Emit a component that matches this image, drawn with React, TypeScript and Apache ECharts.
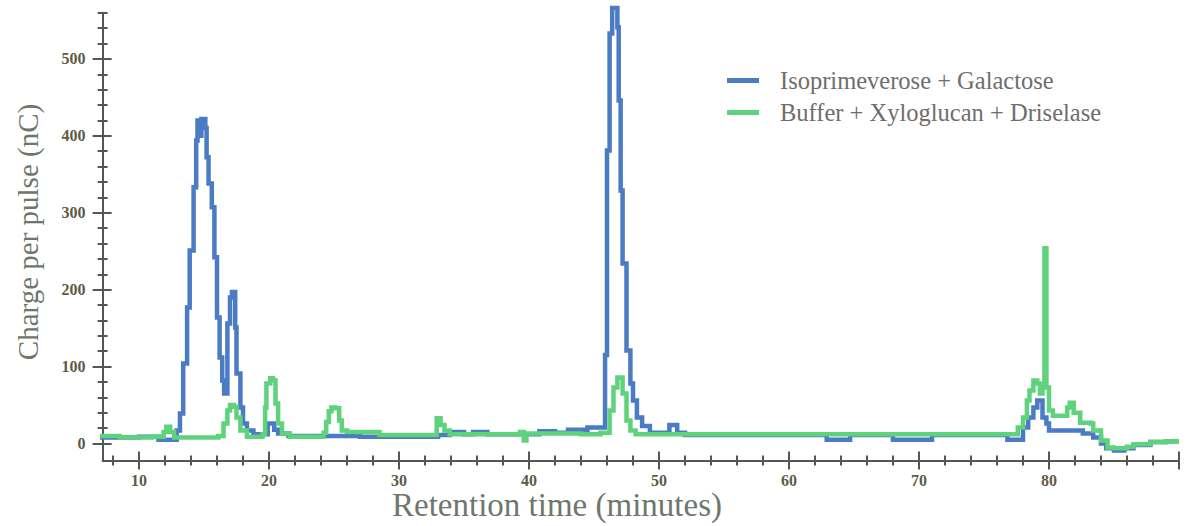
import React, { useEffect, useRef } from "react";
import * as echarts from "echarts";

// Retention time (minutes) and charge per pulse (nC)
const blueT = [7, 10, 11.5, 12.9, 13.15, 13.4, 13.7, 13.9, 14.2, 14.4, 14.5, 14.65, 14.8, 15.1, 15.2, 15.35, 15.6, 15.8, 16.0, 16.2, 16.4, 16.55, 16.8, 17.0, 17.15, 17.4, 17.5, 17.8, 18.0, 18.3, 18.8, 19.9, 20.4, 20.7, 21.5, 27, 33, 33.9, 35, 35.7, 36.8, 40.8, 42, 43, 44.5, 45.5, 45.7, 45.85, 46.0, 46.2, 46.4, 46.8, 46.9, 47.05, 47.2, 47.5, 47.8, 48.0, 48.3, 48.7, 49.3, 50.8, 51.4, 52, 62.9, 64.7, 68, 71, 76.8, 78, 78.4, 78.8, 79.1, 79.5, 79.8, 80, 82.6, 83.4, 84, 84.4, 85, 85.8, 86.5, 87.8, 89, 90];
const blueV = [8, 9, 5, 17, 39, 104, 177, 251, 333, 394, 420, 400, 422, 410, 372, 338, 307, 242, 164, 112, 82, 65, 156, 190, 197, 151, 91, 47, 26, 17, 12, 26, 18, 13, 10, 9, 11, 15, 12, 15, 12, 16, 14, 18, 21, 21, 21, 115, 381, 533, 566, 541, 446, 329, 234, 121, 78, 56, 34, 23, 14, 24, 14, 11, 5, 11, 5, 11, 5, 21, 34, 47, 56, 34, 26, 17, 13, 8, 0, -6, -9, -6, -2, 2, 3, 3];

const greenT = [7, 8.5, 11, 11.9, 12.1, 12.4, 12.7, 16.1, 16.5, 16.8, 17.0, 17.3, 17.5, 17.8, 18.3, 19.5, 19.7, 19.8, 20.1, 20.3, 20.5, 20.7, 21, 21.6, 24.2, 24.4, 24.6, 24.8, 25.1, 25.4, 25.6, 26.0, 28.5, 32.9, 33.2, 33.5, 33.9, 39.3, 39.6, 39.8, 44, 45.5, 46.2, 46.5, 46.8, 47.2, 47.5, 47.8, 48.2, 49, 77.6, 78.0, 78.3, 78.5, 78.8, 79.1, 79.3, 79.5, 79.65, 79.8, 80.0, 80.3, 81.4, 81.6, 81.9, 82.4, 83.2, 83.4, 84, 84.5, 85, 86, 86.5, 87.8, 89, 90];
const greenV = [10, 8, 9, 15, 22, 15, 8, 10, 26, 43, 50, 48, 34, 17, 9, 12, 47, 78, 85, 82, 52, 26, 13, 9, 14, 28, 42, 47, 46, 30, 17, 15, 11, 33, 24, 17, 12, 15, 4, 13, 12, 14, 43, 73, 86, 65, 30, 17, 12, 12, 21, 34, 56, 69, 82, 78, 65, 73, 254, 73, 43, 36, 47, 53, 40, 27, 26, 17, 4, -5, -6, -4, -1, 2, 3, 3];

const seriesNames = ["Isoprimeverose + Galactose", "Buffer + Xyloglucan + Driselase"];
const xMajorTicks = [10, 20, 30, 40, 50, 60, 70, 80, 90];
const xLabels = [10, 20, 30, 40, 50, 60, 70, 80];
const xMinorTicks = [8, 12, 14, 16, 18, 22, 24, 26, 28, 32, 34, 36, 38, 42, 44, 46, 48, 52, 54, 56, 58, 62, 64, 66, 68, 72, 74, 76, 78, 82, 84, 86, 88];
const yMajorTicks = [0, 100, 200, 300, 400, 500];
const yMinorTicks = [20, 40, 60, 80, 120, 140, 160, 180, 220, 240, 260, 280, 320, 340, 360, 380, 420, 440, 460, 480, 520, 540, 560];

const AXIS = "#555552";
const LABEL = "#5d5b47";
const TITLE = "#6d776b";

export default function App() {
  const ref = useRef<HTMLDivElement>(null);
  useEffect(() => {
    if (!ref.current) return;
    const chart = echarts.init(ref.current, undefined, { renderer: "svg" });
    const pair = (t: number[], v: number[]) => t.map((x, i) => [x, v[i]]);
    const xBase = { type: "value", min: 7.2, max: 90, gridIndex: 0, position: "bottom", offset: 0, splitLine: { show: false } };
    const yBase = { type: "value", min: -22, max: 560, gridIndex: 0, position: "left", offset: 0, splitLine: { show: false } };
    const mkX = (ticks: number[], inside: boolean, len: number, main: boolean) => ({
      ...xBase,
      axisLine: { show: main, onZero: false, lineStyle: { color: AXIS, width: 2 } },
      axisTick: { show: true, customValues: ticks, inside, length: len, lineStyle: { color: AXIS, width: 2 } },
      axisLabel: main
        ? { show: true, customValues: xLabels, margin: 12, color: LABEL, fontFamily: "Liberation Serif", fontWeight: "bold", fontSize: 16 }
        : { show: false },
    });
    const mkY = (ticks: number[], inside: boolean, len: number, main: boolean) => ({
      ...yBase,
      axisLine: { show: main, onZero: false, lineStyle: { color: AXIS, width: 2 } },
      axisTick: { show: true, customValues: ticks, inside, length: len, lineStyle: { color: AXIS, width: 2 } },
      axisLabel: main
        ? { show: true, customValues: yMajorTicks, margin: 17, color: LABEL, fontFamily: "Liberation Serif", fontWeight: "bold", fontSize: 16 }
        : { show: false },
    });
    chart.setOption({
      animation: false,
      backgroundColor: "#ffffff",
      grid: { left: 102.6, right: 10, top: 12.7, bottom: 65.5, containLabel: false },
      xAxis: [
        mkX(xMajorTicks, false, 9, true),
        mkX(xMajorTicks, true, 9, false),
        mkX(xMinorTicks, false, 5, false),
        mkX(xMinorTicks, true, 5, false),
      ],
      yAxis: [
        mkY(yMajorTicks, false, 10, true),
        mkY(yMajorTicks, true, 9, false),
        mkY(yMinorTicks, false, 5, false),
        mkY(yMinorTicks, true, 5, false),
      ],
      legend: {
        show: true,
        orient: "vertical",
        left: 727,
        top: 68,
        padding: 0,
        itemGap: 7,
        itemWidth: 32,
        itemHeight: 5,
        icon: "rect",
        data: seriesNames,
        textStyle: { color: "#6e6e6c", fontFamily: "Liberation Serif", fontSize: 24.5, padding: [0, 0, 0, 16] },
      },
      graphic: [
        {
          type: "text",
          x: 28,
          y: 232,
          rotation: Math.PI / 2,
          style: { text: "Charge per pulse (nC)", fill: TITLE, font: "29px 'Liberation Serif'", align: "center", verticalAlign: "middle" },
        },
        {
          type: "text",
          x: 557,
          y: 505,
          style: { text: "Retention time (minutes)", fill: TITLE, font: "33px 'Liberation Serif'", align: "center", verticalAlign: "middle" },
        },
      ],
      series: [
        {
          name: seriesNames[0],
          type: "line",
          step: "end",
          symbol: "none",
          clip: false,
          color: "#4a7bc3",
          lineStyle: { width: 4.5, color: "#4a7bc3", join: "miter" },
          data: pair(blueT, blueV),
          z: 2,
        },
        {
          name: seriesNames[1],
          type: "line",
          step: "end",
          symbol: "none",
          clip: false,
          color: "#5fd27c",
          lineStyle: { width: 4.5, color: "#5fd27c", join: "miter" },
          data: pair(greenT, greenV),
          z: 3,
        },
      ],
    });
    return () => chart.dispose();
  }, []);
  return <div ref={ref} style={{ position: "fixed", left: 0, top: 0, width: 1189, height: 526 }} />;
}
